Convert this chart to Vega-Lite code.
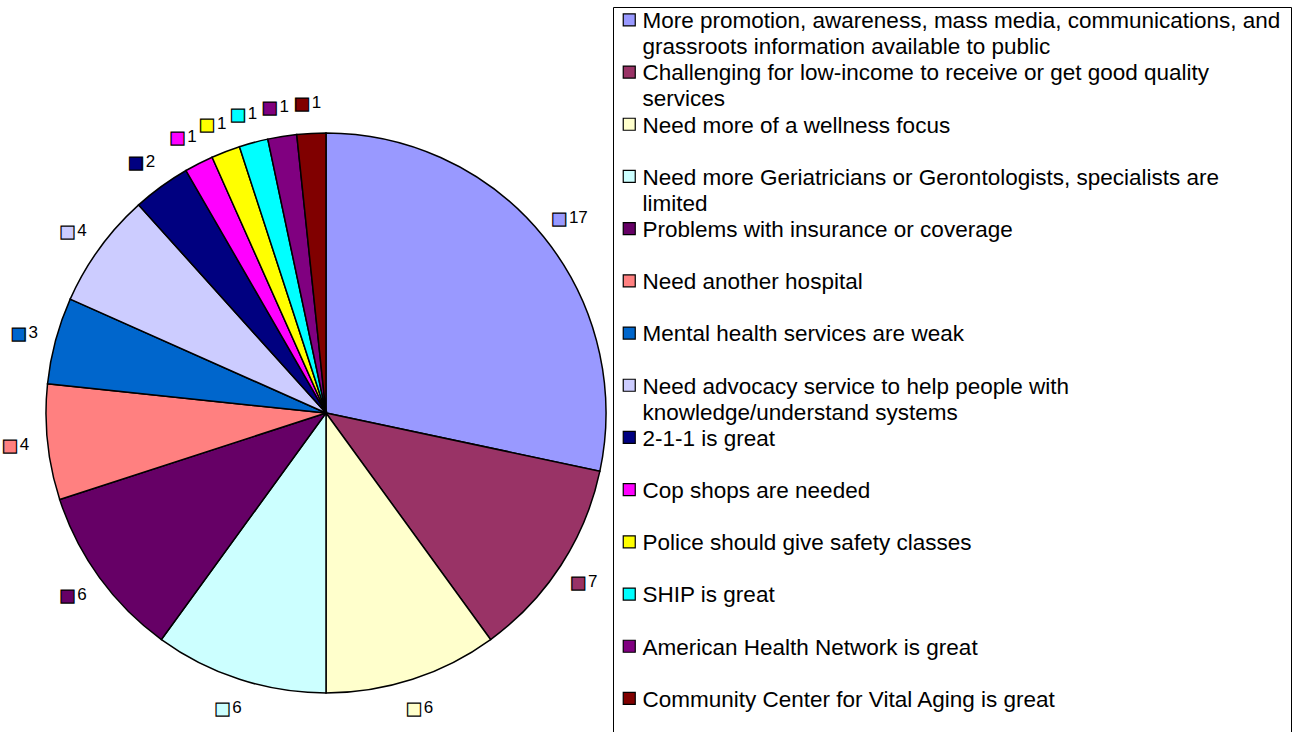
{
  "$schema": "https://vega.github.io/schema/vega-lite/v6.json",
  "width": 652,
  "height": 560,
  "autosize": {"type": "none"},
  "padding": {"left": 0, "top": 133, "right": 646, "bottom": 39},
  "background": "white",
  "config": {
    "view": {"stroke": null},
    "style": {"guide-label": {"lineHeight": 26}}
  },
  "data": {
    "values": [
      {"idx": 1, "category": "More promotion, awareness, mass media, communications, and grassroots information available to public", "count": 17},
      {"idx": 2, "category": "Challenging for low-income to receive or get good quality services", "count": 7},
      {"idx": 3, "category": "Need more of a wellness focus", "count": 6},
      {"idx": 4, "category": "Need more Geriatricians or Gerontologists, specialists are limited", "count": 6},
      {"idx": 5, "category": "Problems with insurance or coverage", "count": 6},
      {"idx": 6, "category": "Need another hospital", "count": 4},
      {"idx": 7, "category": "Mental health services are weak", "count": 3},
      {"idx": 8, "category": "Need advocacy service to help people with knowledge/understand systems", "count": 4},
      {"idx": 9, "category": "2-1-1 is great", "count": 2},
      {"idx": 10, "category": "Cop shops are needed", "count": 1},
      {"idx": 11, "category": "Police should give safety classes", "count": 1},
      {"idx": 12, "category": "SHIP is great", "count": 1},
      {"idx": 13, "category": "American Health Network is great", "count": 1},
      {"idx": 14, "category": "Community Center for Vital Aging is great", "count": 1}
    ]
  },
  "encoding": {
    "theta": {"field": "count", "type": "quantitative", "stack": true},
    "order": {"field": "idx", "type": "quantitative", "sort": "ascending"}
  },
  "layer": [
    {
      "mark": {"type": "arc", "stroke": "black", "strokeWidth": 1.5},
      "encoding": {
        "color": {
          "field": "category",
          "type": "nominal",
          "scale": {
            "domain": [
              "More promotion, awareness, mass media, communications, and grassroots information available to public",
              "Challenging for low-income to receive or get good quality services",
              "Need more of a wellness focus",
              "Need more Geriatricians or Gerontologists, specialists are limited",
              "Problems with insurance or coverage",
              "Need another hospital",
              "Mental health services are weak",
              "Need advocacy service to help people with knowledge/understand systems",
              "2-1-1 is great",
              "Cop shops are needed",
              "Police should give safety classes",
              "SHIP is great",
              "American Health Network is great",
              "Community Center for Vital Aging is great"
            ],
            "range": ["#9999FF", "#993366", "#FFFFCC", "#CCFFFF", "#660066", "#FF8080", "#0066CC", "#CCCCFF", "#000080", "#FF00FF", "#FFFF00", "#00FFFF", "#800080", "#800000"]
          },
          "legend": {
            "orient": "none",
            "legendX": 613,
            "legendY": -126,
            "title": null,
            "direction": "vertical",
            "strokeColor": "black",
            "fillColor": "white",
            "padding": 10,
            "symbolType": "M-1,-2.4H1V-0.4H-1Z",
            "symbolSize": 144,
            "symbolOffset": -5,
            "symbolStrokeColor": "black",
            "symbolStrokeWidth": 1.2,
            "labelFont": "Liberation Sans",
            "labelFontSize": 22.5,
            "labelColor": "black",
            "labelBaseline": "alphabetic",
            "labelOffset": 2,
            "labelLimit": 1000,
            "rowPadding": 3.2,
            "labelExpr": "datum.label == 'More promotion, awareness, mass media, communications, and grassroots information available to public' ? ['More promotion, awareness, mass media, communications, and', 'grassroots information available to public'] : datum.label == 'Challenging for low-income to receive or get good quality services' ? ['Challenging for low-income to receive or get good quality', 'services'] : datum.label == 'Need more Geriatricians or Gerontologists, specialists are limited' ? ['Need more Geriatricians or Gerontologists, specialists are', 'limited'] : datum.label == 'Need advocacy service to help people with knowledge/understand systems' ? ['Need advocacy service to help people with', 'knowledge/understand systems'] : [datum.label, '']"
          }
        }
      }
    },
    {
      "mark": {"type": "text", "radius": 310, "text": "■", "font": "DejaVu Sans", "fontSize": 17, "stroke": "black", "strokeWidth": 1.2, "dx": -8, "dy": 1, "align": "center", "baseline": "middle"},
      "encoding": {
        "fill": {
          "field": "category",
          "type": "nominal",
          "legend": null,
          "scale": {
            "domain": [
              "More promotion, awareness, mass media, communications, and grassroots information available to public",
              "Challenging for low-income to receive or get good quality services",
              "Need more of a wellness focus",
              "Need more Geriatricians or Gerontologists, specialists are limited",
              "Problems with insurance or coverage",
              "Need another hospital",
              "Mental health services are weak",
              "Need advocacy service to help people with knowledge/understand systems",
              "2-1-1 is great",
              "Cop shops are needed",
              "Police should give safety classes",
              "SHIP is great",
              "American Health Network is great",
              "Community Center for Vital Aging is great"
            ],
            "range": ["#9999FF", "#993366", "#FFFFCC", "#CCFFFF", "#660066", "#FF8080", "#0066CC", "#CCCCFF", "#000080", "#FF00FF", "#FFFF00", "#00FFFF", "#800080", "#800000"]
          }
        }
      }
    },
    {
      "mark": {"type": "text", "radius": 310, "dx": 2, "align": "left", "baseline": "middle", "font": "Liberation Sans", "fontSize": 17, "color": "black"},
      "encoding": {
        "text": {"field": "count", "type": "quantitative"}
      }
    }
  ]
}
